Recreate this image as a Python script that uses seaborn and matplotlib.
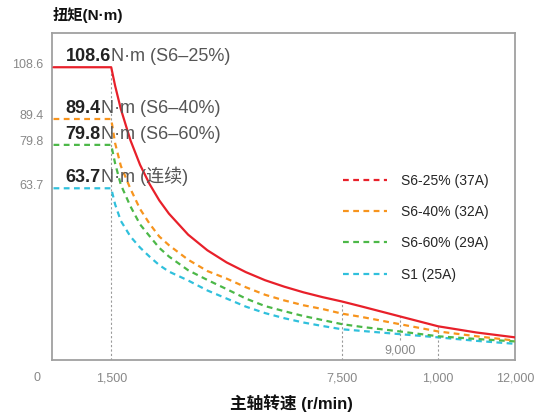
import numpy as np
import pandas as pd
import seaborn as sns
import matplotlib.pyplot as plt
from matplotlib.lines import Line2D
from matplotlib.transforms import ScaledTranslation, blended_transform_factory

sns.set_theme(style="white")
plt.rcParams["font.family"] = ["Liberation Sans", "Noto Sans CJK SC"]

# speed (r/min) vs torque (N·m)
speeds = [0, 1500, 1600, 1750, 2000, 2250, 2500, 2750, 3000, 3500, 4000, 4500,
          5000, 5500, 6000, 6500, 7000, 7500, 8000, 9000, 10000, 11000, 12000]
s6_25 = [108.6, 108.6, 101.8, 93.1, 81.5, 72.4, 65.2, 59.2, 54.3, 46.5, 40.7, 36.2,
         32.6, 29.6, 27.2, 25.1, 23.3, 21.7, 19.9, 16.2, 12.5, 10.2, 8.4]
s6_40 = [89.4, 89.4, 80.5, 72.0, 63.5, 56.0, 50.5, 45.8, 42.6, 37.2, 33.0, 30.2,
         27.0, 24.2, 22.1, 20.3, 18.9, 17.2, 16.0, 13.3, 10.6, 8.8, 7.2]
s6_60 = [79.8, 79.8, 73.0, 65.0, 57.0, 50.3, 45.9, 41.6, 38.4, 33.3, 29.7, 26.3,
         22.8, 20.0, 18.1, 16.3, 14.8, 13.3, 12.3, 10.6, 8.8, 7.8, 6.9]
s1 = [63.7, 63.7, 57.8, 51.6, 45.8, 41.7, 38.3, 35.2, 32.8, 29.5, 25.8, 22.8,
      19.8, 17.4, 15.5, 13.9, 12.6, 11.4, 10.8, 9.6, 8.4, 7.1, 6.0]

legend_labels = ["S6-25% (37A)", "S6-40% (32A)", "S6-60% (29A)", "S1 (25A)"]
note_units = ["N·m (S6–25%)", "N·m (S6–40%)", "N·m (S6–60%)", "N·m (连续)"]
rated = [108.6, 89.4, 79.8, 63.7]
colors = ["#e8202a", "#f7941d", "#4cb848", "#30c0dc"]

tick_speeds = [1500, 7500, 10000, 12000]
tick_labels = ["1,500", "7,500", "1,000", "12,000"]

# grey dotted guide lines
guide_x = [1500, 7500, 9000, 10000]
guide_lo = [0, 0, 7.4, 0]
guide_hi = [108.6, 21.7, 16.2, 12.5]

fig = plt.figure(figsize=(5.39, 4.13), dpi=100)
ax = fig.add_axes([52 / 539, 1 - 360 / 413, (515 - 52) / 539, (360 - 33) / 413])

ax.vlines(guide_x, guide_lo, guide_hi, colors="#9a9a9a", linestyles=(0, (2, 2)),
          lw=0.8, zorder=1)

series = [s6_25, s6_40, s6_60, s1]
for i, vals in enumerate(series):
    ls = "-" if i == 0 else (0, (2.6, 2))
    sns.lineplot(x=speeds, y=vals, ax=ax, color=colors[i], lw=1.6,
                 linestyle=ls, legend=False, zorder=3 + (3 - i))

ax.set_xlim(-40, 12000)
ax.set_ylim(0, 121.3)

for s in ax.spines.values():
    s.set_color("#a0a0a0")
    s.set_linewidth(1.3)

ax.set_xticks(tick_speeds, tick_labels)
ax.set_yticks(rated, [str(v) for v in rated])
ax.tick_params(axis="both", length=0, labelsize=9, labelcolor="#888888")
ax.tick_params(axis="x", pad=9)
ax.tick_params(axis="y", pad=6)
for lab in ax.get_yticklabels():
    lab.set_transform(lab.get_transform() + ScaledTranslation(0, 4 / 100, fig.dpi_scale_trans))

trans = blended_transform_factory(ax.transData, ax.transAxes)
ax.text(-430, -18 / 327, "0", transform=trans, ha="center", va="center",
        fontsize=9, color="#888888")
ax.text(9000, 3.7, "9,000", ha="center", va="center", fontsize=9, color="#888888")

# labels above the rated torque levels
for v, unit in zip(rated, note_units):
    t = ax.text(310, v + 2.3, str(v), fontsize=13, fontweight="bold", color="#222222",
                va="baseline", ha="left", zorder=6)
    ax.annotate(unit, xy=(1, 0), xycoords=t, va="bottom", ha="left",
                fontsize=13, color="#555555", zorder=6)

handles = [Line2D([0], [0], color=c, lw=1.6, linestyle=(0, (2.6, 2))) for c in colors]
ax.legend(handles, legend_labels, loc="upper left", bbox_to_anchor=(0.6285, 0.57),
          frameon=False, fontsize=10, handlelength=3.2, handletextpad=1.0,
          labelspacing=1.25, borderpad=0, borderaxespad=0)

fig.text(53 / 539, 1 - 15 / 413, "扭矩(N·m)", fontsize=11, fontweight="bold",
         color="#111111", va="center", ha="left")
fig.text(291 / 539, 1 - 403 / 413, "主轴转速 (r/min)", fontsize=12, fontweight="bold",
         color="#111111", va="center", ha="center")

fig.savefig("out.png", dpi=100)
